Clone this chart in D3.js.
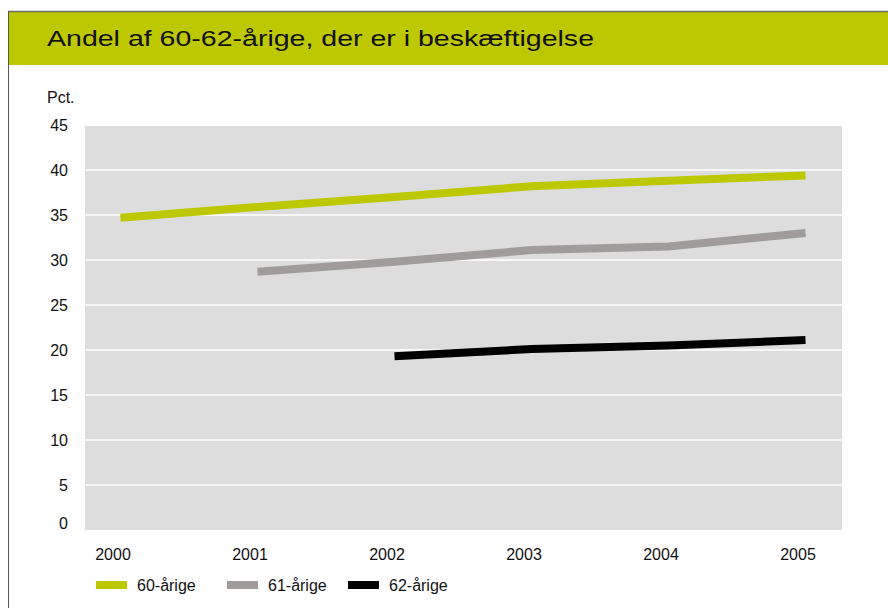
<!DOCTYPE html>
<html>
<head>
<meta charset="utf-8">
<script src="https://cdn.jsdelivr.net/npm/d3@7"></script>
<style>
  body { margin: 0; background: #fff; }
  text { font-family: "Liberation Sans", Arial, sans-serif; fill: #111; }
</style>
</head>
<body>
<div id="chart"></div>
<script>
// data
var years = [2000, 2001, 2002, 2003, 2004, 2005];
var age60 = [34.7, 35.9, 37.0, 38.2, 38.8, 39.4];
var age61 = [null, 28.7, 29.8, 31.1, 31.5, 33.0];
var age62 = [null, null, 19.3, 20.1, 20.5, 21.1];
var seriesNames = ["60-årige", "61-årige", "62-årige"];
var seriesColors = ["#bdc800", "#a09c9c", "#000000"];
var yTicks = [0, 5, 10, 15, 20, 25, 30, 35, 40, 45];

var W = 888, H = 608;
var plot = {left: 85, right: 842, top: 126, bottom: 530};

var svg = d3.select("#chart").append("svg")
    .attr("width", W)
    .attr("height", H);

// frame + title bar
svg.append("rect")
    .attr("x", 8).attr("y", 12)
    .attr("width", W - 8).attr("height", 53)
    .style("fill", "#bdc800");
svg.append("line")
    .attr("x1", 8).attr("x2", W).attr("y1", 11.5).attr("y2", 11.5)
    .style("stroke", "#6f6f6a").style("stroke-width", 1.5);
svg.append("line")
    .attr("x1", 8.5).attr("x2", 8.5).attr("y1", 11).attr("y2", H)
    .style("stroke", "#555").style("stroke-width", 1);

// title font is an extended face, so stretch it to the same width
svg.append("text")
    .attr("x", 47).attr("y", 46)
    .attr("textLength", 547)
    .attr("lengthAdjust", "spacingAndGlyphs")
    .style("font-size", "22px")
    .text("Andel af 60-62-årige, der er i beskæftigelse");

// scales
var x = d3.scalePoint()
    .domain(years)
    .range([120.5, 805.5]);
var y = d3.scaleLinear()
    .domain([0, 45])
    .range([plot.bottom, plot.top - 1]);

// plot background
svg.append("rect")
    .attr("x", plot.left).attr("y", plot.top)
    .attr("width", plot.right - plot.left)
    .attr("height", plot.bottom - plot.top)
    .style("fill", "#dddddd");

// gridlines
svg.selectAll(".grid")
    .data(yTicks.filter(function(d) { return d > 0 && d < 45; }))
    .enter().append("line")
    .attr("class", "grid")
    .attr("x1", plot.left).attr("x2", plot.right)
    .attr("y1", function(d) { return y(d); })
    .attr("y2", function(d) { return y(d); })
    .style("stroke", "#fff")
    .style("stroke-width", 1.5);

// y axis
var yAxis = svg.append("g")
    .attr("transform", "translate(" + 68 + ",0)")
    .call(d3.axisLeft(y).tickValues(yTicks).tickSize(0).tickPadding(0));
yAxis.select(".domain").remove();
yAxis.selectAll("text")
    .style("font-size", "16px")
    .style("font-family", "Liberation Sans, Arial, sans-serif")
    .style("fill", "#111")
    .attr("dy", function(d) { return d === 0 ? "-0.1em" : "0.32em"; });

svg.append("text")
    .attr("x", 47).attr("y", 103)
    .style("font-size", "16px")
    .text("Pct.");

// x axis
var xAxis = svg.append("g")
    .attr("transform", "translate(-8," + 549 + ")")
    .call(d3.axisBottom(x).tickSize(0).tickPadding(0));
xAxis.select(".domain").remove();
xAxis.selectAll("text")
    .style("font-size", "16px")
    .style("font-family", "Liberation Sans, Arial, sans-serif")
    .style("fill", "#111");

// lines
var allSeries = [age60, age61, age62];
var line = d3.line()
    .defined(function(d) { return d.v != null; })
    .x(function(d) { return x(d.year); })
    .y(function(d) { return y(d.v); });

allSeries.forEach(function(vals, i) {
    var pts = years.map(function(yr, j) { return {year: yr, v: vals[j]}; });
    svg.append("path")
        .datum(pts)
        .attr("d", line)
        .style("fill", "none")
        .style("stroke", seriesColors[i])
        .style("stroke-width", 8)
        .style("stroke-linecap", "butt")
        .style("stroke-linejoin", "miter");
});

// legend
var legendX = [96, 227, 348];
var legend = svg.selectAll(".legend")
    .data(seriesNames)
    .enter().append("g")
    .attr("class", "legend")
    .attr("transform", function(d, i) { return "translate(" + legendX[i] + ",585)"; });

legend.append("rect")
    .attr("x", 0).attr("y", -4)
    .attr("width", 31).attr("height", 8)
    .style("fill", function(d, i) { return seriesColors[i]; });

legend.append("text")
    .attr("x", 41).attr("y", 6)
    .style("font-size", "16px")
    .text(String);
</script>
</body>
</html>
